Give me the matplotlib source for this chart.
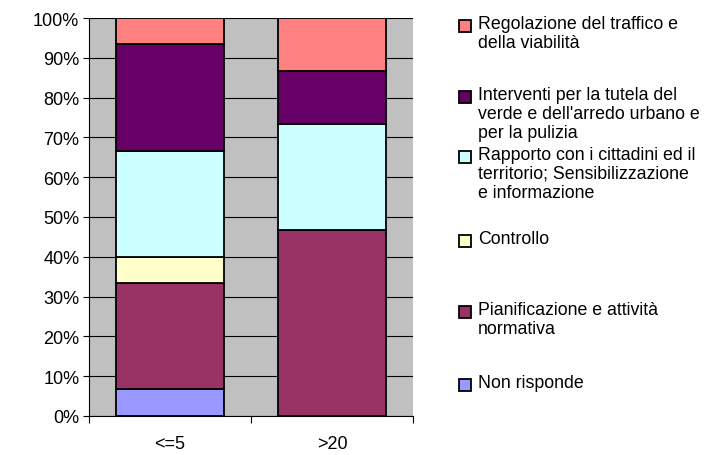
import numpy as np
import matplotlib
matplotlib.use("Agg")
import matplotlib.pyplot as plt
from matplotlib.patches import Rectangle

plt.rcParams['font.family'] = ['Liberation Sans', 'DejaVu Sans']

# categories and series (percent share, stacked bottom to top)
categories = ["<=5", ">20"]
series_names = [
    "Non risponde",
    "Pianificazione e attività\nnormativa",
    "Controllo",
    "Rapporto con i cittadini ed il\nterritorio; Sensibilizzazione\ne informazione",
    "Interventi per la tutela del\nverde e dell'arredo urbano e\nper la pulizia",
    "Regolazione del traffico e\ndella viabilità",
]
values = [
    [6.67, 0.0],
    [26.67, 46.67],
    [6.67, 0.0],
    [26.67, 26.67],
    [26.67, 13.33],
    [6.67, 13.33],
]
colors = ["#9999FF", "#993366", "#FFFFCC", "#CCFFFF", "#660066", "#FF8080"]
y_ticks = np.arange(0, 101, 10)
y_tick_labels = ["{}%".format(v) for v in y_ticks]

W, H = 707, 456
fig = plt.figure(figsize=(W / 100, H / 100), dpi=100)
ax = fig.add_axes([89 / W, 1 - 417 / H, (413 - 89) / W, (417 - 19) / H])
ax.set_facecolor("#C0C0C0")

x = np.arange(len(categories))
bottom = np.zeros(len(categories))
for vals, col in zip(values, colors):
    vals = np.array(vals)
    ax.bar(x, vals, width=0.667, bottom=bottom, color=col,
           edgecolor="black", linewidth=1.3, zorder=3)
    bottom += vals

ax.set_xlim(-0.5, 1.5)
ax.set_ylim(0, 100)
ax.set_yticks(y_ticks)
ax.set_yticklabels(y_tick_labels, fontsize=13)
ax.yaxis.grid(True, color="black", linewidth=0.8, zorder=0)
ax.set_axisbelow(True)
ax.tick_params(axis="y", length=4, width=0.8, pad=3)

ax.set_xticks(x)
ax.set_xticklabels(categories, fontsize=13)
ax.set_xticks([-0.5, 0.5, 1.5], minor=True)
ax.tick_params(axis="x", which="major", length=0, pad=14)
ax.tick_params(axis="x", which="minor", length=5, width=0.8)

for s in ["top", "right"]:
    ax.spines[s].set_visible(False)
for s in ["left", "bottom"]:
    ax.spines[s].set_linewidth(0.8)

# legend drawn by hand, Excel-like uneven spacing (first-line centres in px)
legend_y = [386, 313, 242, 158, 98, 27]
for name, col, yc in zip(series_names, colors, legend_y):
    fig.patches.append(Rectangle((459 / W, 1 - (yc + 6) / H), 12 / W, 12 / H,
                                 transform=fig.transFigure, facecolor=col,
                                 edgecolor="black", linewidth=1.3))
    fig.text(478 / W, 1 - (yc - 11) / H, name, fontsize=12.8, va="top",
             ha="left", linespacing=1.15)

fig.savefig("out.png", dpi=100)
